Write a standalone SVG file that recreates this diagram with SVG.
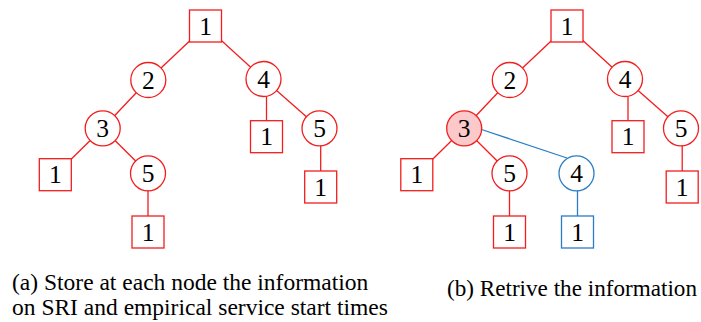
<svg xmlns="http://www.w3.org/2000/svg" width="701" height="322" viewBox="0 0 701 322" font-family="Liberation Serif, Times New Roman, serif">
<style>
.r{fill:#fff;stroke:#f21d1d;stroke-width:1.3}
.b{fill:#fff;stroke:#2a7cc4;stroke-width:1.3}
.hl{fill:#fbc9c9;stroke:#f21d1d;stroke-width:1.3}
.er{stroke:#f21d1d;stroke-width:1.3;fill:none}
.eb{stroke:#2a7cc4;stroke-width:1.3;fill:none}
.t{font-size:25.5px;fill:#000;text-anchor:middle}
.cap{font-size:23.5px;fill:#000}
</style>
<rect width="701" height="322" fill="#fff"/>
<g id="connectors">
<line class="er" x1="205.5" y1="26" x2="148.3" y2="80"/>
<line class="er" x1="205.5" y1="26" x2="263.5" y2="79"/>
<line class="er" x1="148.3" y1="80" x2="102.7" y2="128.3"/>
<line class="er" x1="102.7" y1="128.3" x2="55.3" y2="174.7"/>
<line class="er" x1="102.7" y1="128.3" x2="148" y2="173.3"/>
<line class="er" x1="148" y1="173.3" x2="148" y2="232"/>
<line class="er" x1="266.5" y1="79" x2="266.5" y2="136.7"/>
<line class="er" x1="263.5" y1="79" x2="319.5" y2="128.3"/>
<line class="er" x1="320.7" y1="128.3" x2="320.7" y2="187"/>
<line class="er" x1="567" y1="26" x2="509.8" y2="80"/>
<line class="er" x1="567" y1="26" x2="625" y2="79"/>
<line class="er" x1="509.8" y1="80" x2="464.2" y2="128.3"/>
<line class="er" x1="464.2" y1="128.3" x2="416.8" y2="174.7"/>
<line class="er" x1="464.2" y1="128.3" x2="509.5" y2="173.3"/>
<line class="er" x1="509.5" y1="173.3" x2="509.5" y2="232"/>
<line class="er" x1="628" y1="79" x2="628" y2="136.7"/>
<line class="er" x1="625" y1="79" x2="681" y2="128.3"/>
<line class="er" x1="682.2" y1="128.3" x2="682.2" y2="187"/>
<line class="eb" x1="481.5" y1="129.5" x2="567" y2="158"/>
<line class="eb" x1="577.5" y1="173.3" x2="577.5" y2="232"/>
</g>
<g id="L_root"><rect class="r" x="189.5" y="10" width="32" height="32"/><text class="t" x="205.5" y="34.5">1</text></g>
<g id="L_n2"><circle class="r" cx="148.3" cy="80" r="17.5"/><text class="t" x="148.3" y="88.5">2</text></g>
<g id="L_n4"><circle class="r" cx="263.5" cy="79" r="17.5"/><text class="t" x="263.5" y="87.5">4</text></g>
<g id="L_n3"><circle class="r" cx="102.7" cy="128.3" r="17.5"/><text class="t" x="102.7" y="136.8">3</text></g>
<g id="L_n5r"><circle class="r" cx="319.5" cy="128.3" r="17.5"/><text class="t" x="319.5" y="136.8">5</text></g>
<g id="L_n5m"><circle class="r" cx="148" cy="173.3" r="17.5"/><text class="t" x="148" y="181.8">5</text></g>
<g id="L_s1a"><rect class="r" x="250.5" y="120.7" width="32" height="32"/><text class="t" x="266.5" y="145.2">1</text></g>
<g id="L_s1b"><rect class="r" x="39.3" y="158.7" width="32" height="32"/><text class="t" x="55.3" y="183.2">1</text></g>
<g id="L_s1c"><rect class="r" x="304.7" y="171" width="32" height="32"/><text class="t" x="320.7" y="195.5">1</text></g>
<g id="L_s1d"><rect class="r" x="132" y="216" width="32" height="32"/><text class="t" x="148" y="240.5">1</text></g>
<g id="R_root"><rect class="r" x="551" y="10" width="32" height="32"/><text class="t" x="567" y="34.5">1</text></g>
<g id="R_n2"><circle class="r" cx="509.8" cy="80" r="17.5"/><text class="t" x="509.8" y="88.5">2</text></g>
<g id="R_n4"><circle class="r" cx="625" cy="79" r="17.5"/><text class="t" x="625" y="87.5">4</text></g>
<g id="R_n3"><circle class="hl" cx="464.2" cy="128.3" r="17.5"/><text class="t" x="464.2" y="136.8">3</text></g>
<g id="R_n5r"><circle class="r" cx="681" cy="128.3" r="17.5"/><text class="t" x="681" y="136.8">5</text></g>
<g id="R_n5m"><circle class="r" cx="509.5" cy="173.3" r="17.5"/><text class="t" x="509.5" y="181.8">5</text></g>
<g id="R_n4b"><circle class="b" cx="576.5" cy="173.3" r="17.5"/><text class="t" x="576.5" y="181.8">4</text></g>
<g id="R_s1a"><rect class="r" x="612" y="120.7" width="32" height="32"/><text class="t" x="628" y="145.2">1</text></g>
<g id="R_s1b"><rect class="r" x="400.8" y="158.7" width="32" height="32"/><text class="t" x="416.8" y="183.2">1</text></g>
<g id="R_s1c"><rect class="r" x="666.2" y="171" width="32" height="32"/><text class="t" x="682.2" y="195.5">1</text></g>
<g id="R_s1d"><rect class="r" x="493.5" y="216" width="32" height="32"/><text class="t" x="509.5" y="240.5">1</text></g>
<g id="R_s1e"><rect class="b" x="561.5" y="216" width="32" height="32"/><text class="t" x="577.5" y="240.5">1</text></g>
<g id="captions">
<text class="cap" x="12" y="290">(a) Store at each node the information</text>
<text class="cap" x="12" y="315">on SRI and empirical service start times</text>
<text class="cap" x="447" y="296" textLength="250" lengthAdjust="spacingAndGlyphs">(b) Retrive the information</text>
</g>
</svg>
